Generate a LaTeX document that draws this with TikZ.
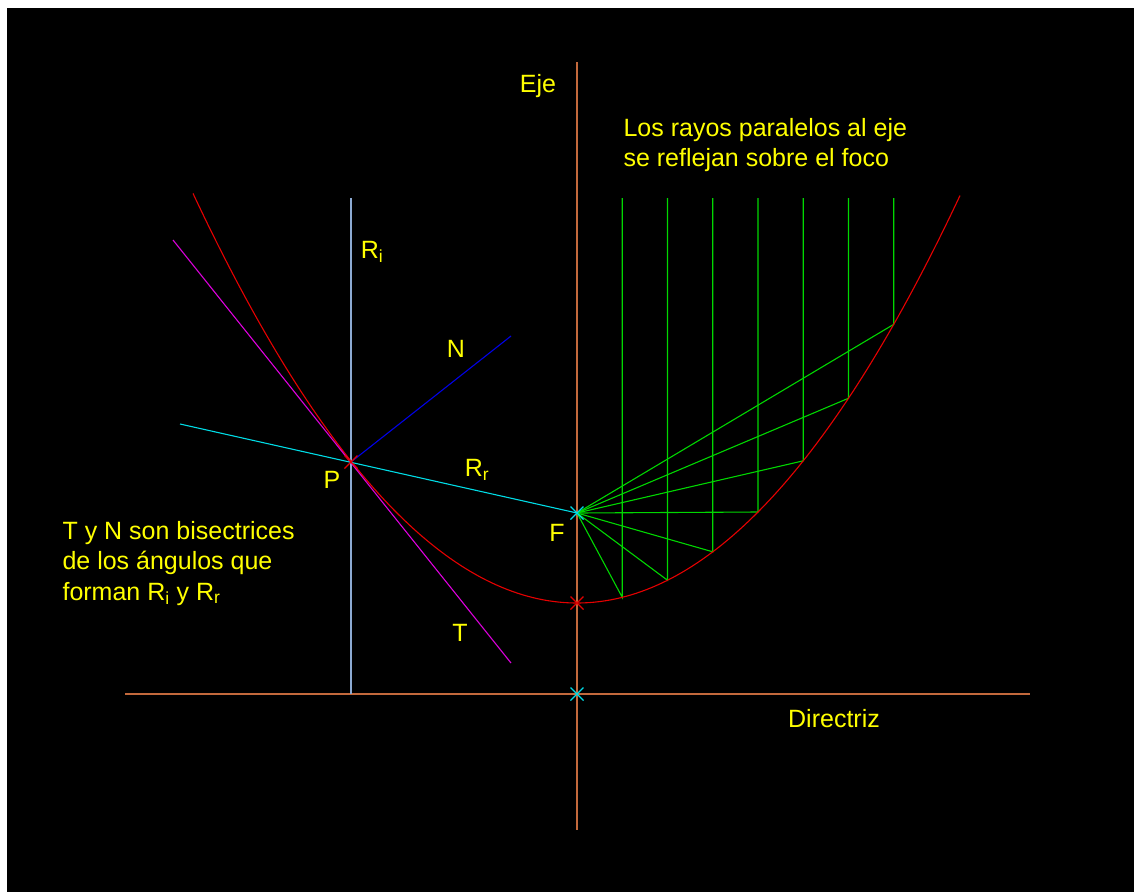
\documentclass[tikz,border=0pt]{standalone}
\usepackage{fontspec}
\setmainfont{Liberation Sans}
\usetikzlibrary{shapes.misc}
\definecolor{ejecol}{RGB}{195,105,60}
\definecolor{ricol}{RGB}{140,170,210}
\definecolor{rrcol}{RGB}{0,220,230}
\definecolor{ncol}{RGB}{0,0,230}
\definecolor{tcol}{RGB}{220,0,220}
\definecolor{parcol}{RGB}{230,0,0}
\definecolor{rayocol}{RGB}{0,215,0}
\definecolor{txtcol}{RGB}{255,255,0}
\begin{document}
\begin{tikzpicture}[x=1pt,y=-1pt,line width=1.1pt,font=\fontsize{25}{30}\selectfont,
  lbl/.style={text=txtcol,inner sep=0pt},
  rayo/.style={rayocol},
  cruz/.style={draw=#1,cross out,minimum size=13pt,inner sep=0pt,outer sep=0pt}]
% fondo
\useasboundingbox (0,0) rectangle (1134,892);
\fill[white] (0,0) rectangle (1134,892);
\fill[black] (7,8) rectangle (1134,892);
% puntos
\coordinate (V) at (577,603);
\coordinate (F) at (577,513);
\coordinate (D) at (577,694);
\coordinate (P) at (351,462);
% eje y directriz
\coordinate (ejeA) at (577,62);
\coordinate (ejeB) at (577,830);
\coordinate (dirA) at (125,694);
\coordinate (dirB) at (1030,694);
\draw[ejecol] (ejeA) -- (ejeB);
\draw[ejecol] (dirA) -- (dirB);
% rayo incidente
\coordinate (RiA) at (351,198);
\coordinate (RiB) at (351,694);
\draw[ricol] (RiA) -- (RiB);
% rayos paralelos al eje
\foreach \k in {1,...,7}{
  \pgfmathsetmacro\dx{45.25*\k}
  \coordinate (A\k) at ({577+\dx},198);
  \coordinate (Q\k) at ({577+\dx},{603-\dx*(\dx/360)});
  \draw[rayo] (A\k) -- (Q\k) -- (F);
}
% parabola
\draw[parcol,domain=-384:383,samples=150] plot ({577+\x},{603-\x*(\x/360)});
% tangente, normal y rayo reflejado
\coordinate (T1) at (173,240);
\coordinate (T2) at (511,663);
\coordinate (N2) at (511,336);
\coordinate (Rr1) at (180,424);
\draw[tcol] (T1) -- (T2);
\draw[ncol] (P) -- (N2);
\draw[rrcol] (Rr1) -- (F);
% marcas
\node[cruz=parcol] (mP) at (P) {};
\node[cruz=parcol] (mV) at (V) {};
\node[cruz=rrcol] (mF) at (F) {};
\node[cruz=rrcol] (mD) at (D) {};
% textos
\node[lbl] (eje) at (538,86) {Eje};
\node[lbl,anchor=base west] (tit1) at (623,136) {Los rayos paralelos al eje};
\node[lbl,anchor=base west] (tit2) at (623,166) {se reflejan sobre el foco};
\node[lbl] (lRi) at (372,252) {R\textsubscript{i}};
\node[lbl] (lN) at (456,349) {N};
\node[lbl] (lRr) at (477,470) {R\textsubscript{r}};
\node[lbl] (lP) at (332,480) {P};
\node[lbl] (lF) at (557,533) {F};
\node[lbl] (lT) at (460,633) {T};
\node[lbl] (ldir) at (834,719) {Directriz};
\node[lbl,anchor=base west] (bis1) at (62,539) {T y N son bisectrices};
\node[lbl,anchor=base west] (bis2) at (62,569) {de los ángulos que};
\node[lbl,anchor=base west] (bis3) at (62,600) {forman R\textsubscript{i} y R\textsubscript{r}};
\end{tikzpicture}
\end{document}
